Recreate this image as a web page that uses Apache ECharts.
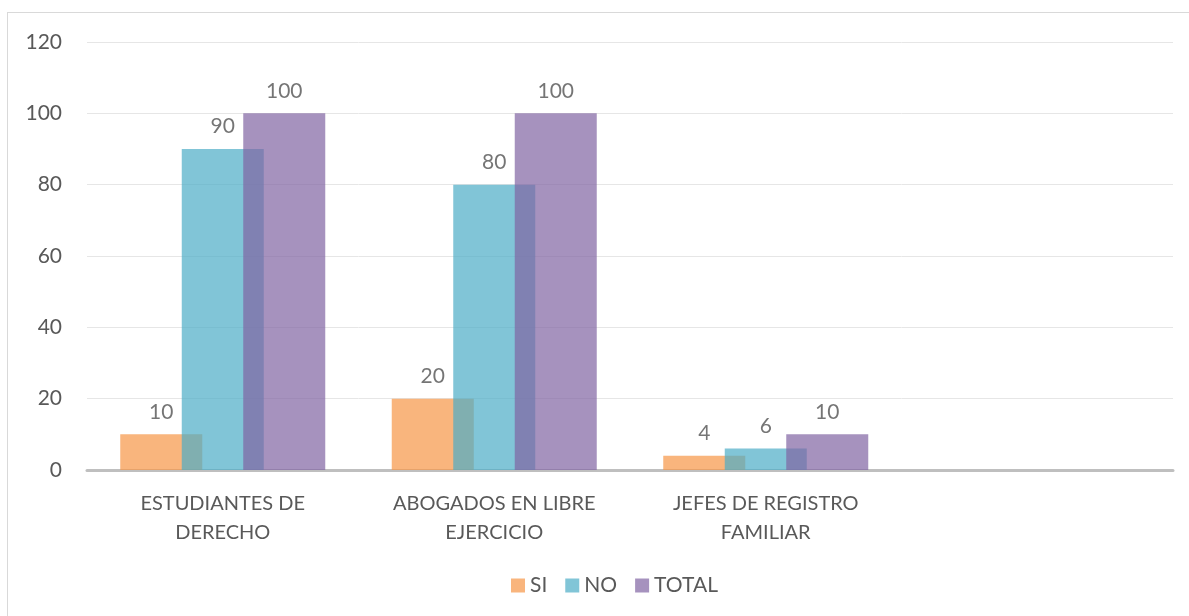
<!DOCTYPE html>
<html>
<head>
<meta charset="utf-8">
<script src="https://cdn.jsdelivr.net/npm/echarts@6/dist/echarts.min.js"></script>
<style>
    html, body { margin:0; padding:0; background:#fff; overflow:hidden; }
    #frame {
        position:absolute; left:7px; top:12px; width:1200px; height:640px;
        border:1px solid #d9d9d9; box-sizing:border-box;
    }
    #myChart { position:absolute; left:0; top:0; width:1189px; height:616px; }
</style>
</head>
<body>
<div id="frame"></div>
<div id="myChart"></div>
<script>
var categories = ['ESTUDIANTES DE\nDERECHO', 'ABOGADOS EN LIBRE\nEJERCICIO', 'JEFES DE REGISTRO\nFAMILIAR', '']
var siValues = [10, 20, 4, null]
var noValues = [90, 80, 6, null]
var totalValues = [100, 100, 10, null]
var seriesNames = ['SI', 'NO', 'TOTAL']

var colorList = ['#F79646', '#4BACC6', '#8064A2']
var fontName = 'Lato, "Noto Sans", sans-serif'

function makeSeries(name, data, color) {
    return {
        name: name,
        type: 'bar',
        data: data,
        barWidth: 82,
        barGap: '-25%',
        itemStyle: { color: color, opacity: 0.7 },
        label: {
            show: true,
            position: 'top',
            distance: 12,
            color: '#3a3a3a',
            fontSize: 21,
            fontFamily: fontName
        }
    }
}

var myChart = echarts.init(document.getElementById('myChart'))
myChart.setOption({
    animation: false,
    grid: { left: 87, right: 16, top: 42, bottom: 146 },
    legend: {
        left: 506,
        bottom: 15,
        itemWidth: 14,
        itemHeight: 14,
        itemGap: 18,
        itemTextGap: 6,
        icon: 'rect',
        textStyle: { color: '#595959', fontSize: 21, fontFamily: fontName },
        data: seriesNames
    },
    xAxis: {
        type: 'category',
        data: categories,
        axisLine: { lineStyle: { color: '#bfbfbf', width: 3 } },
        axisTick: { show: false },
        axisLabel: {
            color: '#595959', fontSize: 20, fontFamily: fontName,
            lineHeight: 29, margin: 19, interval: 0
        }
    },
    yAxis: {
        type: 'value',
        min: 0,
        max: 120,
        interval: 20,
        axisLine: { show: false },
        axisTick: { show: false },
        splitLine: { lineStyle: { color: '#e6e6e6', width: 1 } },
        axisLabel: { color: '#595959', fontSize: 21, fontFamily: fontName, margin: 25 }
    },
    series: [
        makeSeries(seriesNames[0], siValues, colorList[0]),
        makeSeries(seriesNames[1], noValues, colorList[1]),
        makeSeries(seriesNames[2], totalValues, colorList[2])
    ]
})
</script>
</body>
</html>
